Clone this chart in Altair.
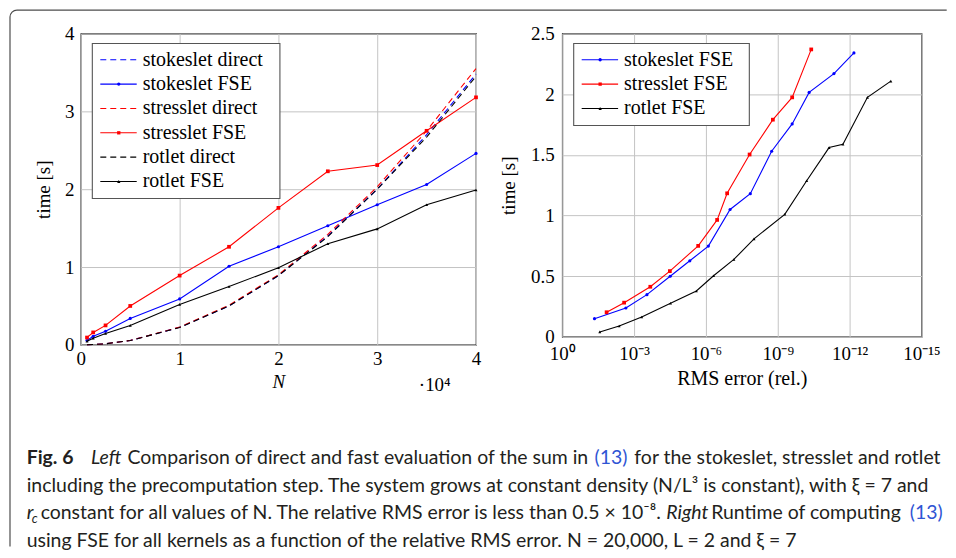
import altair as alt
import pandas as pd

# ---------------- data: left panel (time vs N) ----------------
N_VALUES = [625, 1250, 2500, 5000, 10000, 15000, 20000, 25000, 30000, 35000, 40000]
STOKESLET_DIRECT = [0.001, 0.004, 0.014, 0.056, 0.225, 0.50, 0.89, 1.40, 2.00, 2.70, 3.48]
STOKESLET_FSE = [0.056, 0.11, 0.175, 0.34, 0.59, 1.01, 1.26, 1.53, 1.80, 2.06, 2.46]
STRESSLET_DIRECT = [0.001, 0.004, 0.014, 0.057, 0.228, 0.51, 0.90, 1.42, 2.03, 2.75, 3.55]
STRESSLET_FSE = [0.094, 0.16, 0.25, 0.50, 0.89, 1.26, 1.76, 2.23, 2.31, 2.75, 3.18]
ROTLET_DIRECT = [0.001, 0.004, 0.014, 0.055, 0.222, 0.50, 0.89, 1.39, 2.00, 2.67, 3.45]
ROTLET_FSE = [0.047, 0.085, 0.145, 0.25, 0.52, 0.75, 0.99, 1.30, 1.49, 1.80, 1.99]

# ---------------- data: right panel (time vs RMS error) ----------------
ERR_STOKESLET = [4.5e-2, 2.2e-3, 2.9e-4, 3.1e-5, 4.7e-6, 7.9e-7, 9.8e-8, 1.4e-8, 1.8e-9, 2.5e-10, 4.9e-11, 4.5e-12, 6.6e-13]
TIME_STOKESLET = [0.15, 0.238, 0.348, 0.50, 0.627, 0.748, 1.05, 1.18, 1.53, 1.755, 2.015, 2.17, 2.34]
ERR_STRESSLET = [1.4e-2, 2.6e-3, 2.1e-4, 3.2e-5, 2.1e-6, 3.4e-7, 1.3e-7, 1.5e-8, 1.6e-9, 2.5e-10, 4.0e-11]
TIME_STRESSLET = [0.203, 0.282, 0.413, 0.542, 0.75, 0.964, 1.183, 1.503, 1.79, 1.974, 2.369]
ERR_ROTLET = [2.7e-2, 4.2e-3, 4.8e-4, 3.0e-5, 2.5e-6, 4.8e-7, 6.8e-8, 9.8e-9, 5.1e-10, 6.2e-11, 7.2e-12, 1.9e-12, 1.8e-13, 1.9e-14]
TIME_ROTLET = [0.041, 0.09, 0.164, 0.277, 0.378, 0.504, 0.638, 0.808, 1.01, 1.287, 1.56, 1.588, 1.974, 2.108]

# ---------------- labels / text ----------------
LEFT_LEGEND = ["stokeslet direct", "stokeslet FSE", "stresslet direct",
               "stresslet FSE", "rotlet direct", "rotlet FSE"]
RIGHT_LEGEND = ["stokeslet FSE", "stresslet FSE", "rotlet FSE"]
LEFT_X_TICKS = [0, 10000, 20000, 30000, 40000]
LEFT_Y_TICKS = [0, 1, 2, 3, 4]
RIGHT_X_TICKS = [1, 1e-3, 1e-6, 1e-9, 1e-12, 1e-15]
RIGHT_Y_TICKS = [0, 0.5, 1, 1.5, 2, 2.5]
X_MULTIPLIER = "·10⁴"

CAPTION = [
    [("Fig. 6", "bold"), ("Left", "italic"),
     ("Comparison of direct and fast evaluation of the sum in", "plain"),
     ("(13)", "link"), ("for the stokeslet, stresslet and rotlet", "plain")],
    [("including the precomputation step. The system grows at constant density (N/L³ is constant), with ξ = 7 and", "plain")],
    [("r", "italic"), ("c", "sub"),
     ("constant for all values of N. The relative RMS error is less than 0.5 × 10⁻⁸.", "plain"),
     ("Right", "italic"), ("Runtime of computing", "plain"), ("(13)", "link")],
    [("using FSE for all kernels as a function of the relative RMS error. N = 20,000, L = 2 and ξ = 7", "plain")],
]
# layout (page x of each caption segment, page baseline of each line)
CAPTION_X = [[25, 89.5, 126, 594, 634], [25], [25, 30, 39, 666, 711, 910], [25]]
CAPTION_BASELINE = [465.5, 493, 521, 548.5]

# ---------------- styles ----------------
SERIF = "Liberation Serif"
SANS = "Lato"
STYLE = {
    "stokeslet direct": ("#0000ff", True, None),
    "stokeslet FSE": ("#0000ff", False, "circle"),
    "stresslet direct": ("#ff0000", True, None),
    "stresslet FSE": ("#ff0000", False, "square"),
    "rotlet direct": ("#000000", True, None),
    "rotlet FSE": ("#000000", False, "triangle-up"),
}
MSIZE = {"circle": 10, "square": 14, "triangle-up": 9}
DASH = [6, 4]
W1, H1 = 396, 312
W2, H2 = 360, 304
OX, OY = 79.3, 34.0  # page position of the left plot origin


def series_chart(xs, ys, name, xenc, yenc):
    color, dashed, shape = STYLE[name]
    kw = dict(color=color, strokeWidth=1.1)
    if dashed:
        kw["strokeDash"] = DASH
    if shape:
        kw["point"] = alt.OverlayMarkDef(shape=shape, filled=True, size=MSIZE[shape], color=color, opacity=1)
    df = pd.DataFrame({"x": xs, "y": ys})
    return alt.Chart(df).mark_line(**kw).encode(x=xenc, y=yenc)


def legend_layers(labels, box_w):
    rows = []
    for i, lab in enumerate(labels):
        color, dashed, shape = STYLE[lab]
        rows.append({"label": lab, "ly": 26.3 + i * 24.4, "col": color,
                     "dashed": dashed, "shape": shape or "none"})
    df = pd.DataFrame(rows)
    box_h = 26.3 + (len(labels) - 1) * 24.4 + 17
    box = alt.Chart(pd.DataFrame({"k": [0]})).mark_rect(
        fill="white", stroke="#555555", strokeWidth=1.1
    ).encode(x=alt.value(11.5), x2=alt.value(11.5 + box_w), y=alt.value(10), y2=alt.value(box_h))
    yl = alt.Y("ly:Q", scale=None)
    dashed_rule = alt.Chart(df).transform_filter("datum.dashed").mark_rule(
        strokeDash=DASH, strokeWidth=1.1
    ).encode(x=alt.value(19.5), x2=alt.value(56), y=yl, color=alt.Color("col:N", scale=None))
    solid_rule = alt.Chart(df).transform_filter("!datum.dashed").mark_rule(
        strokeWidth=1.1
    ).encode(x=alt.value(19.5), x2=alt.value(56), y=yl, color=alt.Color("col:N", scale=None))
    pts = alt.Chart(df).transform_filter("!datum.dashed").mark_point(
        filled=True, size=11, opacity=1
    ).encode(x=alt.value(38), y=yl, color=alt.Color("col:N", scale=None),
             shape=alt.Shape("shape:N", scale=None))
    txt = alt.Chart(df).mark_text(
        align="left", baseline="middle", font=SERIF, fontSize=20, color="black"
    ).encode(x=alt.value(62), y=yl, text="label:N")
    return [box, dashed_rule, solid_rule, pts, txt]


# ---------------- left panel ----------------
x_left = alt.X("x:Q", scale=alt.Scale(domain=[0, 40000], nice=False, zero=False),
               axis=alt.Axis(values=LEFT_X_TICKS, labelExpr="format(datum.value / 10000, 'd')",
                             title="N", titleFontStyle="italic", titleX=W1 / 2, titleY=37,
                             titleBaseline="middle", titleAlign="center", labelPadding=5))
y_left = alt.Y("y:Q", scale=alt.Scale(domain=[0, 4], nice=False),
               axis=alt.Axis(values=LEFT_Y_TICKS, title="time [s]", titleX=-37.3, titleY=H1 / 2,
                             titleBaseline="middle", titleAlign="center", labelPadding=7))

left_series = [
    series_chart(N_VALUES, STOKESLET_DIRECT, "stokeslet direct", x_left, y_left),
    series_chart(N_VALUES, STOKESLET_FSE, "stokeslet FSE", x_left, y_left),
    series_chart(N_VALUES, STRESSLET_DIRECT, "stresslet direct", x_left, y_left),
    series_chart(N_VALUES, STRESSLET_FSE, "stresslet FSE", x_left, y_left),
    series_chart(N_VALUES, ROTLET_DIRECT, "rotlet direct", x_left, y_left),
    series_chart(N_VALUES, ROTLET_FSE, "rotlet FSE", x_left, y_left),
]

mult = alt.Chart(pd.DataFrame({"t": [X_MULTIPLIER]})).mark_text(
    align="left", baseline="alphabetic", font=SERIF, fontSize=19, color="black"
).encode(x=alt.value(418 - OX), y=alt.value(392 - OY), text="t:N")

# frame around the figure (top edge is the top of the drawing)
FL, FT, R = 8.3 - OX, -23.5, 7
one = pd.DataFrame({"k": [0]})
FRAME_COLOR = "#4d4d4d"
frame_top = alt.Chart(one).mark_rule(color=FRAME_COLOR, strokeWidth=1.2).encode(
    x=alt.value(FL + R), x2=alt.value(947 - OX), y=alt.value(FT))
frame_left = alt.Chart(one).mark_rule(color=FRAME_COLOR, strokeWidth=1.2).encode(
    x=alt.value(FL), y=alt.value(FT + R), y2=alt.value(548 - OY))
frame_corner = alt.Chart(one).mark_arc(
    radius=R + 0.6, radius2=R - 0.6, theta=4.7124, theta2=6.2832, fill=FRAME_COLOR
).encode(x=alt.value(FL + R), y=alt.value(FT + R))

# caption
CAP_SIZE = 19.5
STYLE_TEXT = {
    "plain": dict(fontStyle="normal", fontWeight="normal", color="#231f20", fontSize=CAP_SIZE, dy=0),
    "bold": dict(fontStyle="normal", fontWeight="bold", color="#231f20", fontSize=CAP_SIZE, dy=0),
    "italic": dict(fontStyle="italic", fontWeight="normal", color="#231f20", fontSize=CAP_SIZE, dy=0),
    "link": dict(fontStyle="normal", fontWeight="normal", color="#2f55d4", fontSize=CAP_SIZE, dy=0),
    "sub": dict(fontStyle="italic", fontWeight="normal", color="#231f20", fontSize=13, dy=4),
}
cap_rows = []
for li, line in enumerate(CAPTION):
    for si, (txt, sty) in enumerate(line):
        cap_rows.append({"text": txt, "style": sty,
                         "px": CAPTION_X[li][si] - OX,
                         "py": CAPTION_BASELINE[li] - OY + STYLE_TEXT[sty]["dy"]})
cap_df = pd.DataFrame(cap_rows)
caption_layers = []
for sty, st in STYLE_TEXT.items():
    caption_layers.append(
        alt.Chart(cap_df).transform_filter(alt.datum.style == sty).mark_text(
            align="left", baseline="alphabetic", font=SANS, fontSize=st["fontSize"],
            fontStyle=st["fontStyle"], fontWeight=st["fontWeight"], color=st["color"]
        ).encode(x=alt.X("px:Q", scale=None), y=alt.Y("py:Q", scale=None), text="text:N")
    )

left = alt.layer(
    *left_series, *legend_layers(LEFT_LEGEND, 188), mult,
    frame_top, frame_left, frame_corner, *caption_layers
).properties(width=W1, height=H1)

# ---------------- right panel ----------------
sup_expr = ("datum.value > 0.1 ? '10⁰' : datum.value > 0.0001 ? '10⁻³' : "
            "datum.value > 0.0000001 ? '10⁻⁶' : datum.value > 0.0000000001 ? '10⁻⁹' : "
            "datum.value > 0.0000000000001 ? '10⁻¹²' : '10⁻¹⁵'")
x_right = alt.X("x:Q", scale=alt.Scale(type="log", domain=[1e-15, 1], reverse=True, nice=False),
                axis=alt.Axis(values=RIGHT_X_TICKS, labelExpr=sup_expr, title="RMS error (rel.)",
                              titleX=W2 / 2, titleY=42, titleBaseline="middle", titleAlign="center",
                              labelPadding=8, titleFontSize=20))
y_right = alt.Y("y:Q", scale=alt.Scale(domain=[0, 2.5], nice=False),
                axis=alt.Axis(values=RIGHT_Y_TICKS, format="~g", title="time [s]", titleX=-53.7,
                              titleY=H2 / 2, titleBaseline="middle", titleAlign="center",
                              labelPadding=8))

right_series = [
    series_chart(ERR_STOKESLET, TIME_STOKESLET, "stokeslet FSE", x_right, y_right),
    series_chart(ERR_STRESSLET, TIME_STRESSLET, "stresslet FSE", x_right, y_right),
    series_chart(ERR_ROTLET, TIME_ROTLET, "rotlet FSE", x_right, y_right),
]
right = alt.layer(*right_series, *legend_layers(RIGHT_LEGEND, 176)).properties(width=W2, height=H2)

chart = alt.hconcat(left, right, spacing=561.7 - OX - W1, bounds="flush").properties(
    padding={"left": 0, "top": 0, "right": 0, "bottom": 0}
).configure_view(stroke="black", strokeWidth=1.2).configure_axis(
    labelFont=SERIF, labelFontSize=19, labelColor="black", titleFont=SERIF, titleFontSize=19,
    titleFontWeight="normal", titleColor="black", domain=False, ticks=False,
    gridColor="#c4c4c4", gridWidth=1, labelFlush=False, labelOverlap=False, labelBound=False
)

chart.save("out.html", embed_options={"renderer": "svg", "actions": False})
